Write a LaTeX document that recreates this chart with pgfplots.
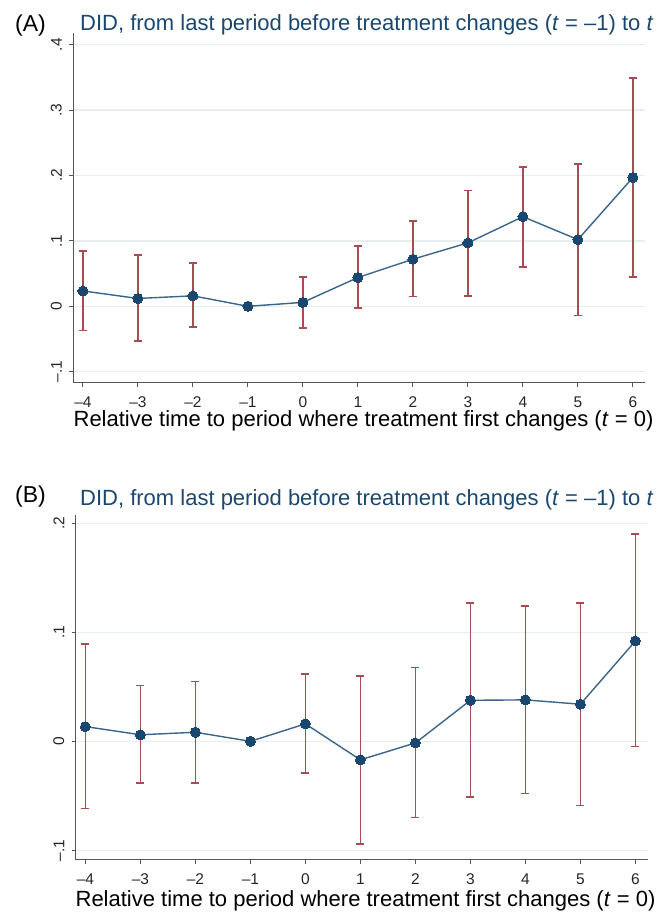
\documentclass[border=0pt]{standalone}
\usepackage{fontspec}
\setmainfont{Liberation Sans}
\usepackage{pgfplots}
\usepackage{pgfplotstable}
\pgfplotsset{compat=1.18}
\definecolor{stnavy}{HTML}{1A476F}
\definecolor{stline}{HTML}{3A6489}
\definecolor{stmaroon}{HTML}{A84C53}
\definecolor{stgrid}{HTML}{E6EEF0}
\definecolor{staxis}{HTML}{555555}

\pgfplotstableread{
t b lo hi
-4 0.0235 -0.037 0.085
-3 0.012 -0.053 0.078
-2 0.016 -0.032 0.066
-1 0 0 0
0 0.006 -0.033 0.045
1 0.044 -0.003 0.092
2 0.072 0.015 0.130
3 0.097 0.016 0.177
4 0.137 0.060 0.213
5 0.102 -0.014 0.218
6 0.197 0.045 0.349
}\dataA

\pgfplotstableread{
t b lo hi
-4 0.0135 -0.0615 0.089
-3 0.006 -0.038 0.051
-2 0.0083 -0.038 0.055
-1 0 0 0
0 0.016 -0.029 0.0615
1 -0.017 -0.094 0.060
2 -0.0015 -0.070 0.0676
3 0.0376 -0.051 0.127
4 0.038 -0.048 0.124
5 0.034 -0.0587 0.127
6 0.092 -0.0046 0.190
}\dataB

\pgfplotsset{
  stata/.style={
    scale only axis, width=572pt,
    xmin=-4.18, xmax=6.22,
    axis x line*=bottom, axis y line*=left,
    axis line style={-, staxis, line width=1pt},
    xtick={-4,-3,-2,-1,0,1,2,3,4,5,6},
    xticklabels={–4,–3,–2,–1,0,1,2,3,4,5,6},
    tick align=outside, major tick length=4pt,
    tick style={staxis, line width=1pt},
    ymajorgrids, grid style={stgrid, line width=1.2pt},
    tick label style={font=\fontsize{15.5}{17}\selectfont, text=black!85, inner sep=0pt},
    xticklabel style={anchor=base},
    xticklabel shift=21pt,
    yticklabel style={rotate=90, anchor=south},
    yticklabel shift=7pt,
    /pgf/number format/assume math mode=true,
  },
  errs/.style={stmaroon, line width=1.6pt, only marks, mark=none,
    error bars/.cd, y dir=both, y explicit,
    error bar style={stmaroon, line width=1.6pt},
    error mark options={stmaroon, line width=1.6pt, mark size=4pt, rotate=90}},
  pts/.style={stline, line width=1.4pt, mark=*, mark size=5pt,
    mark options={fill=stnavy, draw=stnavy, line width=0pt}},
}

\begin{document}
\begin{tikzpicture}
\useasboundingbox (0pt,-915pt) rectangle (668pt,0pt);

\begin{axis}[stata, at={(73pt,-382.7pt)}, anchor=south west,
  height=349.4pt, ymin=-0.1168, ymax=0.4174,
  ytick={-0.1,0,0.1,0.2,0.3,0.4}, yticklabels={–.1,0,.1,.2,.3,.4}]
\addplot[errs] table[x=t, y=b, y error plus expr=\thisrow{hi}-\thisrow{b}, y error minus expr=\thisrow{b}-\thisrow{lo}] {\dataA};
\addplot[pts] table[x=t, y=b] {\dataA};
\end{axis}

\begin{axis}[stata, at={(75.5pt,-859.5pt)}, anchor=south west,
  height=345pt, ymin=-0.1084, ymax=0.208,
  ytick={-0.1,0,0.1,0.2}, yticklabels={–.1,0,.1,.2}]
\addplot[errs] table[x=t, y=b, y error plus expr=\thisrow{hi}-\thisrow{b}, y error minus expr=\thisrow{b}-\thisrow{lo}] {\dataB};
\addplot[pts] table[x=t, y=b] {\dataB};
\end{axis}

\node[anchor=base west, inner sep=0pt, font=\fontsize{23}{27}\selectfont] at (15pt,-32pt) {(A)};
\node[anchor=base west, inner sep=0pt, text=stnavy, font=\fontsize{22}{26}\selectfont] at (80pt,-31pt) {DID, from last period before treatment changes (\textit{t} = –1) to \textit{t}};
\node[anchor=base, inner sep=0pt, font=\fontsize{22}{26}\selectfont] at (363.5pt,-426.7pt) {Relative time to period where treatment first changes (\textit{t} = 0)};

\node[anchor=base west, inner sep=0pt, font=\fontsize{23}{27}\selectfont] at (15pt,-502pt) {(B)};
\node[anchor=base west, inner sep=0pt, text=stnavy, font=\fontsize{22}{26}\selectfont] at (80pt,-505.5pt) {DID, from last period before treatment changes (\textit{t} = –1) to \textit{t}};
\node[anchor=base, inner sep=0pt, font=\fontsize{22}{26}\selectfont] at (365.5pt,-906.7pt) {Relative time to period where treatment first changes (\textit{t} = 0)};
\end{tikzpicture}
\end{document}
